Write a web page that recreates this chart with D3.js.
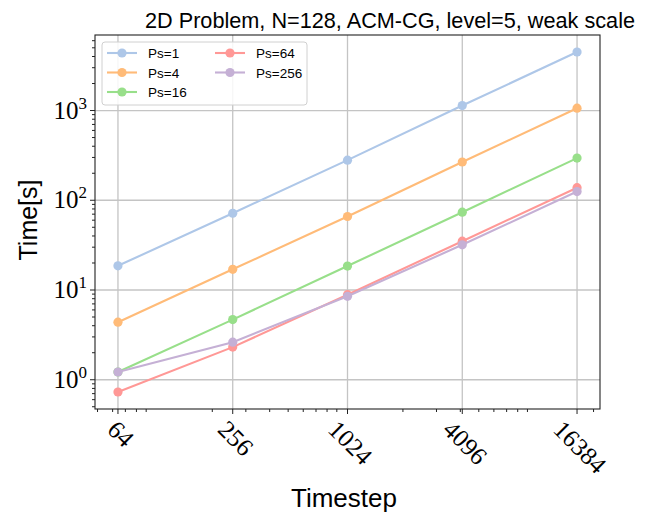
<!DOCTYPE html>
<html>
<head>
<meta charset="utf-8">
<script src="https://cdn.jsdelivr.net/npm/d3@7"></script>
<style>
  body { margin: 0; background: #fff; }
  svg { display: block; }
</style>
</head>
<body>
<div id="chart"></div>
<script>
// data
const timesteps = [64, 256, 1024, 4096, 16384];
const seriesNames = ['Ps=1', 'Ps=4', 'Ps=16', 'Ps=64', 'Ps=256'];
const ps1 = [18.6, 71.7, 280, 1136, 4490];
const ps4 = [4.38, 17.0, 65.9, 267, 1061];
const ps16 = [1.22, 4.68, 18.5, 73.6, 295];
const ps64 = [0.73, 2.31, 8.87, 35.0, 138];
const ps256 = [1.22, 2.62, 8.51, 31.9, 125];
const colors = ['#aec7e8', '#ffbb78', '#98df8a', '#ff9896', '#c5b0d5'];
const yTickValues = [1, 10, 100, 1000];

const series = [ps1, ps4, ps16, ps64, ps256].map((vals, i) => ({
  name: seriesNames[i], color: colors[i],
  points: vals.map((v, j) => ({ x: timesteps[j], y: v }))
}));

// layout
const width = 651, height = 512;
const plot = {left: 95, right: 600, top: 35, bottom: 409};

// log domain with 5% padding like matplotlib
function padLog(lo, hi) {
  const a = Math.log10(lo), b = Math.log10(hi), m = (b - a) * 0.05;
  return [Math.pow(10, a - m), Math.pow(10, b + m)];
}
const allY = series.flatMap(s => s.points.map(p => p.y));
const x = d3.scaleLog()
  .domain(padLog(d3.min(timesteps), d3.max(timesteps)))
  .range([plot.left, plot.right]);
const y = d3.scaleLog()
  .domain(padLog(d3.min(allY), d3.max(allY)))
  .range([plot.bottom, plot.top]);

// minor ticks: 2..9 x 10^k inside domain
function minorTicks(scale) {
  const [lo, hi] = scale.domain();
  const out = [];
  for (let k = Math.floor(Math.log10(lo)); k <= Math.ceil(Math.log10(hi)); k++) {
    for (let m = 2; m <= 9; m++) {
      const v = m * Math.pow(10, k);
      if (v >= lo && v <= hi) out.push(v);
    }
  }
  return out;
}

const svg = d3.select('#chart').append('svg')
  .attr('width', width)
  .attr('height', height);

// grid
const grid = svg.append('g').attr('stroke', '#c4c4c4').attr('stroke-width', 1.3);
grid.selectAll('.gx').data(timesteps).enter().append('line')
  .attr('x1', d => x(d)).attr('x2', d => x(d))
  .attr('y1', plot.top).attr('y2', plot.bottom);
grid.selectAll('.gy').data(yTickValues).enter().append('line')
  .attr('y1', d => y(d)).attr('y2', d => y(d))
  .attr('x1', plot.left).attr('x2', plot.right);

// lines + markers
const line = d3.line().x(d => x(d.x)).y(d => y(d.y));
series.forEach(s => {
  svg.append('path')
    .datum(s.points)
    .attr('fill', 'none')
    .attr('stroke', s.color)
    .attr('stroke-width', 2.1)
    .attr('d', line);
  svg.append('g').selectAll('circle').data(s.points).enter().append('circle')
    .attr('cx', d => x(d.x))
    .attr('cy', d => y(d.y))
    .attr('r', 4.6)
    .attr('fill', s.color);
});

// frame
svg.append('rect')
  .attr('x', plot.left).attr('y', plot.top)
  .attr('width', plot.right - plot.left).attr('height', plot.bottom - plot.top)
  .attr('fill', 'none').attr('stroke', '#222').attr('stroke-width', 1.1);

// ticks
const ticks = svg.append('g').attr('stroke', '#222').attr('stroke-width', 1);
ticks.selectAll('.mx').data(minorTicks(x)).enter().append('line')
  .attr('x1', d => x(d)).attr('x2', d => x(d))
  .attr('y1', plot.bottom).attr('y2', plot.bottom + 3);
ticks.selectAll('.Mx').data(timesteps).enter().append('line')
  .attr('x1', d => x(d)).attr('x2', d => x(d))
  .attr('y1', plot.bottom).attr('y2', plot.bottom + 5);
ticks.selectAll('.my').data(minorTicks(y)).enter().append('line')
  .attr('y1', d => y(d)).attr('y2', d => y(d))
  .attr('x1', plot.left).attr('x2', plot.left - 3);
ticks.selectAll('.My').data(yTickValues).enter().append('line')
  .attr('y1', d => y(d)).attr('y2', d => y(d))
  .attr('x1', plot.left).attr('x2', plot.left - 5);

// y tick labels 10^k
const serif = '"Liberation Serif", "DejaVu Serif", serif';
const ylab = svg.append('g').selectAll('text').data(yTickValues).enter().append('text')
  .attr('x', plot.left - 8)
  .attr('y', d => y(d) + 8)
  .attr('text-anchor', 'end')
  .style('font-family', serif)
  .style('font-size', '25px')
  .style('fill', '#000');
ylab.append('tspan').text('10');
ylab.append('tspan')
  .attr('dy', -10)
  .style('font-size', '17px')
  .text(d => Math.round(Math.log10(d)));

// x tick labels rotated
svg.append('g').selectAll('text').data(timesteps).enter().append('text')
  .style('font-family', serif)
  .style('font-size', '25px')
  .style('fill', '#000')
  .attr('text-anchor', 'middle')
  .attr('dominant-baseline', 'central')
  .text(d => d)
  .each(function(d) {
    const len = this.getComputedTextLength();
    const h = 17;
    const half = (len + h) * Math.SQRT1_2 / 2;
    const cx = x(d) + 3, cy = plot.bottom + 10 + half;
    d3.select(this).attr('x', cx).attr('y', cy)
      .attr('transform', `rotate(45,${cx},${cy})`);
  });

// titles
const sans = '"Liberation Sans", Arial, sans-serif';
svg.append('text')
  .attr('x', 390).attr('y', 28)
  .attr('text-anchor', 'middle')
  .attr('textLength', 490)
  .attr('lengthAdjust', 'spacingAndGlyphs')
  .style('font-family', sans).style('font-size', '22px')
  .text('2D Problem, N=128, ACM-CG, level=5, weak scale');
svg.append('text')
  .attr('x', 344).attr('y', 507)
  .attr('text-anchor', 'middle')
  .style('font-family', sans).style('font-size', '26px')
  .text('Timestep');
svg.append('text')
  .attr('transform', 'translate(37,220) rotate(-90)')
  .attr('text-anchor', 'middle')
  .style('font-family', sans).style('font-size', '25px')
  .text('Time[s]');

// legend, column major, 2 columns
const legend = svg.append('g');
legend.append('rect')
  .attr('x', 102).attr('y', 42).attr('width', 205).attr('height', 63)
  .attr('rx', 3)
  .attr('fill', '#fff').attr('fill-opacity', 0.85)
  .attr('stroke', '#d0d0d0').attr('stroke-width', 1);
const items = legend.selectAll('.item').data(series).enter().append('g')
  .attr('transform', (d, i) => {
    const col = i < 3 ? 0 : 1, row = i < 3 ? i : i - 3;
    return `translate(${107 + col * 108},${53 + row * 19.5})`;
  });
items.append('line')
  .attr('x1', 0).attr('x2', 30)
  .attr('stroke', d => d.color).attr('stroke-width', 2.1);
items.append('circle')
  .attr('cx', 15).attr('r', 4.6)
  .attr('fill', d => d.color);
items.append('text')
  .attr('x', 41).attr('y', 5)
  .style('font-family', sans).style('font-size', '13.5px')
  .text(d => d.name);
</script>
</body>
</html>
